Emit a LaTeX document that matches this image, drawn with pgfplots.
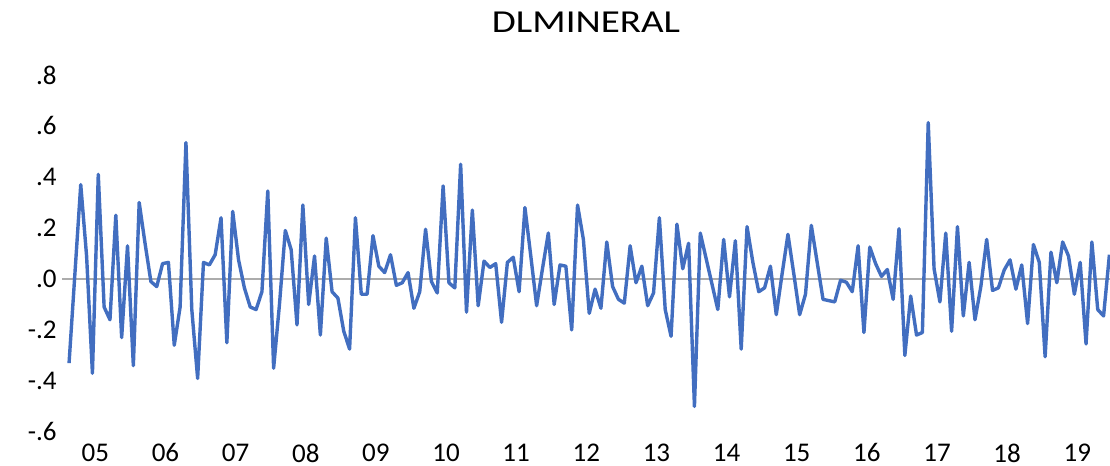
\documentclass[border=0pt]{standalone}
\usepackage{fontspec}
\setmainfont{Carlito}
\usepackage{pgfplots}
\pgfplotsset{compat=1.18}
\definecolor{lineblue}{RGB}{66,110,192}

\begin{document}
\begin{tikzpicture}
\begin{axis}[
  scale only axis,
  width=524pt, height=178.5pt,
  xmin=-1.2, xmax=178.1,
  ymin=-0.6, ymax=0.8,
  axis line style={draw=none},
  major tick length=0pt,
  xtick={4.5,16.5,28.5,40.5,52.5,64.5,76.5,88.5,100.5,112.5,124.5,136.5,148.5,160.5,172.5},
  xticklabels={05,06,07,08,09,10,11,12,13,14,15,16,17,18,19},
  ytick={-0.6,-0.4,-0.2,0,0.2,0.4,0.6,0.8},
  yticklabels={-.6,-.4,-.2,.0,.2,.4,.6,.8},
  tick label style={font=\fontsize{13.5pt}{14pt}\selectfont},
  xticklabel style={anchor=center, inner sep=0pt, yshift=-10.5pt},
  yticklabel style={anchor=east, inner sep=0pt, xshift=-2.5pt},
]
\coordinate (bl) at (rel axis cs:-0.0592,-0.0952);
\coordinate (tr) at (rel axis cs:1,1.210);
\coordinate (tt) at (rel axis cs:0.5,1.148);
\draw[gray!65, line width=0.6pt] (axis cs:-1.2,0) -- (axis cs:178.1,0);
\addplot[lineblue, line width=1.7pt, mark=none, line join=round] table {
x y
0 -0.33
1 0.02
2 0.37
3 0.09
4 -0.37
5 0.41
6 -0.11
7 -0.16
8 0.25
9 -0.23
10 0.13
11 -0.34
12 0.30
13 0.14
14 -0.01
15 -0.03
16 0.06
17 0.065
18 -0.26
19 -0.11
20 0.535
21 -0.12
22 -0.39
23 0.065
24 0.055
25 0.095
26 0.24
27 -0.25
28 0.265
29 0.075
30 -0.035
31 -0.11
32 -0.12
33 -0.05
34 0.345
35 -0.35
36 -0.10
37 0.19
38 0.115
39 -0.18
40 0.29
41 -0.10
42 0.09
43 -0.22
44 0.16
45 -0.05
46 -0.075
47 -0.205
48 -0.275
49 0.24
50 -0.06
51 -0.06
52 0.17
53 0.05
54 0.025
55 0.095
56 -0.025
57 -0.015
58 0.025
59 -0.115
60 -0.05
61 0.195
62 -0.01
63 -0.055
64 0.365
65 -0.015
66 -0.035
67 0.45
68 -0.13
69 0.27
70 -0.105
71 0.07
72 0.045
73 0.06
74 -0.17
75 0.065
76 0.085
77 -0.05
78 0.28
79 0.09
80 -0.105
81 0.04
82 0.18
83 -0.10
84 0.055
85 0.05
86 -0.20
87 0.29
88 0.155
89 -0.135
90 -0.04
91 -0.115
92 0.145
93 -0.03
94 -0.08
95 -0.095
96 0.13
97 -0.015
98 0.05
99 -0.105
100 -0.055
101 0.24
102 -0.12
103 -0.225
104 0.215
105 0.04
106 0.14
107 -0.50
108 0.18
109 0.08
110 -0.02
111 -0.12
112 0.155
113 -0.07
114 0.15
115 -0.275
116 0.205
117 0.065
118 -0.05
119 -0.035
120 0.05
121 -0.14
122 0.02
123 0.175
124 0.02
125 -0.14
126 -0.06
127 0.21
128 0.065
129 -0.08
130 -0.085
131 -0.09
132 -0.005
133 -0.013
134 -0.05
135 0.13
136 -0.21
137 0.125
138 0.06
139 0.01
140 0.037
141 -0.08
142 0.197
143 -0.30
144 -0.067
145 -0.22
146 -0.21
147 0.613
148 0.04
149 -0.09
150 0.18
151 -0.205
152 0.205
153 -0.145
154 0.065
155 -0.16
156 -0.03
157 0.155
158 -0.045
159 -0.035
160 0.035
161 0.075
162 -0.04
163 0.055
164 -0.175
165 0.135
166 0.065
167 -0.305
168 0.105
169 -0.015
170 0.145
171 0.09
172 -0.06
173 0.065
174 -0.255
175 0.145
176 -0.12
177 -0.145
178 0.095
};
\end{axis}
\node[inner sep=0pt, font=\fontsize{16pt}{17pt}\selectfont] at (tt) {\scalebox{1.22}[1]{DLMINERAL}};
\pgfresetboundingbox
\path (bl) rectangle (tr);
\end{tikzpicture}
\end{document}
